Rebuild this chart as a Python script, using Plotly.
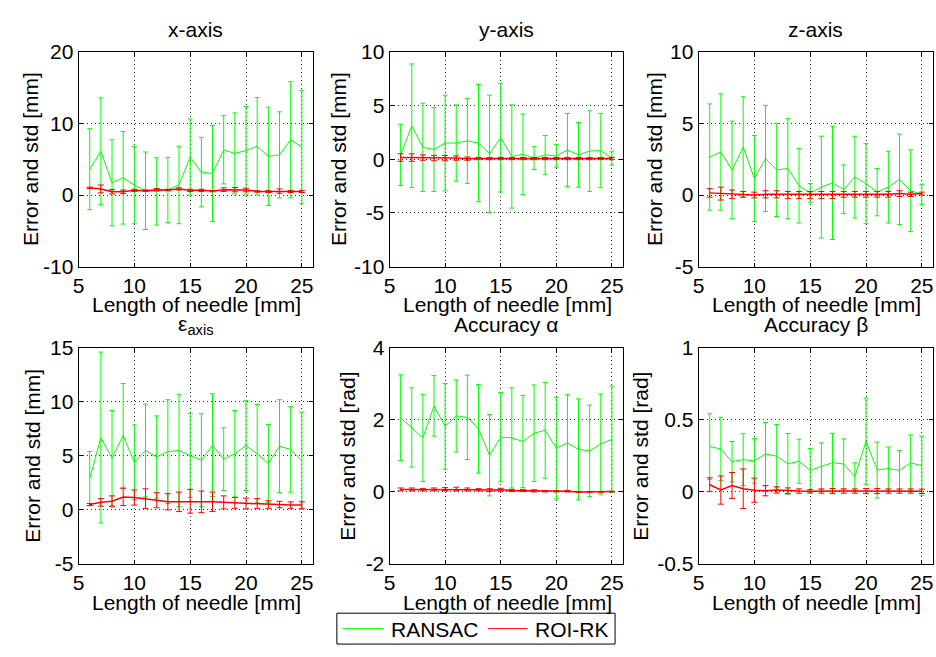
import plotly.graph_objects as go

# ---------------- data ----------------
needle_len = [6, 7, 8, 9, 10, 11, 12, 13, 14, 15, 16, 17, 18, 19, 20, 21, 22, 23, 24, 25]

x_ransac_mean = [3.6, 6.1, 1.7, 2.4, 1.4, 0.6, 0.5, 0.7, 1.4, 5.3, 3.2, 3.0, 6.3, 5.8, 6.2, 6.8, 5.4, 5.6, 7.7, 6.7]
x_ransac_std = [5.65, 7.45, 6.0, 6.45, 5.4, 5.4, 4.7, 4.55, 5.4, 5.3, 4.85, 6.7, 4.75, 5.65, 6.15, 6.8, 6.85, 6.0, 8.1, 7.9]
x_roi_mean = [1.0, 0.85, 0.45, 0.45, 0.65, 0.6, 0.75, 0.7, 0.85, 0.65, 0.65, 0.55, 0.75, 0.75, 0.7, 0.5, 0.5, 0.55, 0.5, 0.5]
x_roi_std = [0.1, 0.55, 0.3, 0.25, 0.15, 0.1, 0.15, 0.1, 0.15, 0.15, 0.15, 0.1, 0.25, 0.3, 0.25, 0.1, 0.15, 0.3, 0.15, 0.15]

y_ransac_mean = [0.4, 3.1, 1.1, 0.9, 1.5, 1.5, 1.7, 1.5, 0.5, 2.0, 0.25, 0.45, 0.1, 0.4, 0.3, 0.85, 0.4, 0.75, 0.8, 0.1]
y_ransac_std = [2.85, 5.75, 4.1, 3.9, 4.45, 3.55, 3.95, 5.45, 5.45, 5.05, 4.8, 3.75, 1.05, 1.8, 1.05, 3.4, 3.0, 3.75, 3.45, 0.65]
y_roi_mean = [0.15, 0.15, 0.15, 0.1, 0.1, 0.1, 0.05, 0.05, 0.05, 0.05, 0.05, 0.05, 0.05, 0.05, 0.05, 0.05, 0.05, 0.05, 0.05, 0.05]
y_roi_std = [0.35, 0.35, 0.25, 0.25, 0.25, 0.2, 0.15, 0.1, 0.1, 0.1, 0.1, 0.1, 0.1, 0.1, 0.1, 0.1, 0.1, 0.1, 0.1, 0.1]

z_ransac_mean = [2.65, 3.0, 1.75, 3.35, 1.15, 2.55, 1.75, 1.85, 0.65, 0.15, 0.55, 0.85, 0.4, 1.25, 0.8, 0.2, 0.55, 1.1, 0.3, 0.05]
z_ransac_std = [3.7, 4.05, 3.4, 3.5, 3.0, 3.7, 3.25, 3.5, 2.6, 0.65, 3.55, 3.95, 1.7, 2.85, 2.8, 1.65, 2.5, 3.15, 2.85, 0.7]
z_roi_mean = [0.15, 0.1, 0.05, 0.05, 0.0, 0.05, 0.05, 0.0, 0.0, 0.0, 0.0, 0.0, 0.05, 0.05, 0.05, 0.05, 0.05, 0.1, 0.05, 0.1]
z_roi_std = [0.3, 0.45, 0.3, 0.2, 0.2, 0.25, 0.25, 0.25, 0.25, 0.25, 0.25, 0.25, 0.2, 0.2, 0.2, 0.2, 0.2, 0.2, 0.15, 0.1]

eps_ransac_mean = [2.9, 6.7, 4.8, 6.9, 4.4, 5.5, 4.9, 5.4, 5.5, 5.05, 4.6, 6.0, 4.7, 5.2, 5.95, 5.2, 4.3, 5.9, 5.6, 4.55]
eps_ransac_std = [2.5, 7.9, 4.4, 4.8, 3.45, 4.3, 3.8, 4.8, 5.2, 3.9, 4.3, 4.75, 2.9, 4.0, 4.15, 4.55, 3.6, 4.3, 3.95, 4.5]
eps_roi_mean = [0.5, 0.7, 0.8, 1.2, 1.15, 1.05, 0.9, 0.75, 0.75, 0.8, 0.75, 0.75, 0.7, 0.65, 0.6, 0.6, 0.5, 0.5, 0.45, 0.45]
eps_roi_std = [0.1, 0.35, 0.5, 0.8, 0.7, 0.9, 0.7, 0.75, 0.9, 1.1, 1.0, 0.9, 0.6, 0.5, 0.5, 0.45, 0.35, 0.3, 0.3, 0.3]

alpha_ransac_mean = [2.06, 1.79, 1.5, 2.39, 1.82, 2.11, 2.07, 1.75, 1.02, 1.52, 1.5, 1.4, 1.63, 1.71, 1.22, 1.36, 1.18, 1.14, 1.33, 1.46]
alpha_ransac_std = [1.19, 1.1, 1.21, 0.84, 1.19, 1.0, 1.17, 1.23, 1.13, 1.24, 1.39, 1.28, 1.34, 1.33, 1.41, 1.34, 1.4, 1.27, 1.39, 1.48]
alpha_roi_mean = [0.07, 0.07, 0.06, 0.07, 0.08, 0.08, 0.07, 0.06, 0.05, 0.06, 0.04, 0.04, 0.03, 0.02, 0.02, 0.02, 0.0, 0.0, 0.0, 0.01]
alpha_roi_std = [0.04, 0.04, 0.03, 0.04, 0.04, 0.05, 0.04, 0.03, 0.04, 0.04, 0.03, 0.03, 0.03, 0.02, 0.02, 0.02, 0.01, 0.01, 0.01, 0.01]

beta_ransac_mean = [0.315, 0.298, 0.21, 0.224, 0.216, 0.263, 0.248, 0.195, 0.213, 0.149, 0.177, 0.203, 0.194, 0.106, 0.352, 0.152, 0.162, 0.15, 0.202, 0.182]
beta_ransac_std = [0.227, 0.22, 0.14, 0.18, 0.155, 0.219, 0.22, 0.21, 0.153, 0.152, 0.163, 0.204, 0.174, 0.096, 0.299, 0.194, 0.15, 0.138, 0.193, 0.205]
beta_roi_mean = [0.05, 0.013, 0.045, 0.022, 0.012, 0.008, 0.014, 0.008, 0.006, 0.004, 0.006, 0.006, 0.006, 0.006, 0.006, 0.006, 0.006, 0.006, 0.006, 0.004]
beta_roi_std = [0.048, 0.098, 0.09, 0.137, 0.084, 0.035, 0.022, 0.02, 0.015, 0.012, 0.015, 0.018, 0.015, 0.015, 0.018, 0.018, 0.015, 0.015, 0.015, 0.015]

series_names = ["RANSAC", "ROI-RK"]
panel_titles = ["x-axis", "y-axis", "z-axis", "ε<sub>axis</sub>", "Accuracy α", "Accuracy β"]
y_titles = ["Error and std [mm]"] * 4 + ["Error and std [rad]"] * 2
x_title = "Length of needle [mm]"
y_ranges = [[-10, 20], [-10, 10], [-5, 10], [-5, 15], [-2, 4], [-0.5, 1]]
y_ticks = [[-10, 0, 10, 20], [-10, -5, 0, 5, 10], [-5, 0, 5, 10], [-5, 0, 5, 10, 15], [-2, 0, 2, 4], [-0.5, 0, 0.5, 1]]
y_ticktext = [["-10", "0", "10", "20"], ["-10", "-5", "0", "5", "10"], ["-5", "0", "5", "10"],
              ["-5", "0", "5", "10", "15"], ["-2", "0", "2", "4"], ["-0.5", "0", "0.5", "1"]]
x_range = [5, 26]
x_ticks = [5, 10, 15, 20, 25]

series = [
    (x_ransac_mean, x_ransac_std, x_roi_mean, x_roi_std),
    (y_ransac_mean, y_ransac_std, y_roi_mean, y_roi_std),
    (z_ransac_mean, z_ransac_std, z_roi_mean, z_roi_std),
    (eps_ransac_mean, eps_ransac_std, eps_roi_mean, eps_roi_std),
    (alpha_ransac_mean, alpha_ransac_std, alpha_roi_mean, alpha_roi_std),
    (beta_ransac_mean, beta_ransac_std, beta_roi_mean, beta_roi_std),
]

# ---------------- layout geometry (pixels) ----------------
W, H = 936, 657
cols = [(73, 309), (386, 621), (697, 933)]
rows = [(41, 264), (348, 572)]
ytitle_x = [24, 334, 652, 27, 344, 639]
FONT = "Liberation Sans, Arial, sans-serif"
FS = 21
GREEN = "#00ff00"
RED = "#ff0000"


def px(x):
    return x / W


def py(y):
    return 1 - y / H


fig = go.Figure()
annotations = []
shapes = []
layout_axes = {}

for i in range(6):
    r, c = divmod(i, 3)
    n = "" if i == 0 else str(i + 1)
    g_mean, g_std, r_mean, r_std = series[i]
    fig.add_trace(go.Scatter(
        x=needle_len, y=g_mean, mode="lines", name=series_names[0],
        line=dict(color=GREEN, width=1),
        error_y=dict(type="data", array=g_std, visible=True, color=GREEN, thickness=1, width=2.5),
        xaxis="x" + n, yaxis="y" + n, showlegend=False))
    fig.add_trace(go.Scatter(
        x=needle_len, y=r_mean, mode="lines", name=series_names[1],
        line=dict(color=RED, width=1.5),
        error_y=dict(type="data", array=r_std, visible=True, color=RED, thickness=1, width=3),
        xaxis="x" + n, yaxis="y" + n, showlegend=False))

    x0, x1 = cols[c]
    y0, y1 = rows[r]
    common = dict(showline=True, linecolor="black", linewidth=1, mirror="ticks",
                  ticks="inside", ticklen=4, tickcolor="black",
                  showgrid=True, gridcolor="#303030", gridwidth=1, griddash="1px,3px",
                  zeroline=False, tickfont=dict(family=FONT, size=FS, color="black"))
    layout_axes["xaxis" + n] = dict(domain=[px(x0), px(x1)], range=x_range, tickvals=x_ticks,
                                    anchor="y" + n, **common)
    layout_axes["yaxis" + n] = dict(domain=[py(y1), py(y0)], range=y_ranges[i], tickvals=y_ticks[i],
                                    ticktext=y_ticktext[i], anchor="x" + n, **common)

    # panel title
    title_y = 18 if r == 0 else 324
    annotations.append(dict(text=panel_titles[i], x=px((x0 + x1) / 2), y=py(title_y),
                            xref="paper", yref="paper", xanchor="center", yanchor="middle",
                            showarrow=False, font=dict(family=FONT, size=FS, color="black")))
    # x axis title
    xt_y = 303 if r == 0 else 612
    annotations.append(dict(text=x_title, x=px((x0 + x1) / 2 + 1), y=py(xt_y),
                            xref="paper", yref="paper", xanchor="center", yanchor="middle",
                            showarrow=False, font=dict(family=FONT, size=FS, color="black")))
    # y axis title
    annotations.append(dict(text=y_titles[i], x=px(ytitle_x[i]), y=py((y0 + y1) / 2),
                            xref="paper", yref="paper", xanchor="center", yanchor="middle",
                            textangle=-90, showarrow=False,
                            font=dict(family=FONT, size=FS, color="black")))

# ---------------- legend (drawn as a boxed key) ----------------
shapes.append(dict(type="rect", xref="paper", yref="paper",
                   x0=px(333), x1=px(613), y0=py(655), y1=py(623),
                   line=dict(color="black", width=1), fillcolor="white", layer="above"))
legend_items = [(series_names[0], GREEN, 339, 380, 385), (series_names[1], RED, 485, 525, 530)]
for name, colr, lx0, lx1, tx in legend_items:
    shapes.append(dict(type="line", xref="paper", yref="paper",
                       x0=px(lx0), x1=px(lx1), y0=py(639), y1=py(639),
                       line=dict(color=colr, width=1), layer="above"))
    annotations.append(dict(text=name, x=px(tx), y=py(639.5), xref="paper", yref="paper",
                            xanchor="left", yanchor="middle", showarrow=False,
                            font=dict(family=FONT, size=FS, color="black")))

fig.update_layout(
    width=W, height=H,
    margin=dict(l=0, r=0, t=0, b=0),
    paper_bgcolor="white", plot_bgcolor="white",
    font=dict(family=FONT, size=FS, color="black"),
    annotations=annotations,
    shapes=shapes,
    showlegend=False,
    **layout_axes,
)

fig.write_html("out.html")
